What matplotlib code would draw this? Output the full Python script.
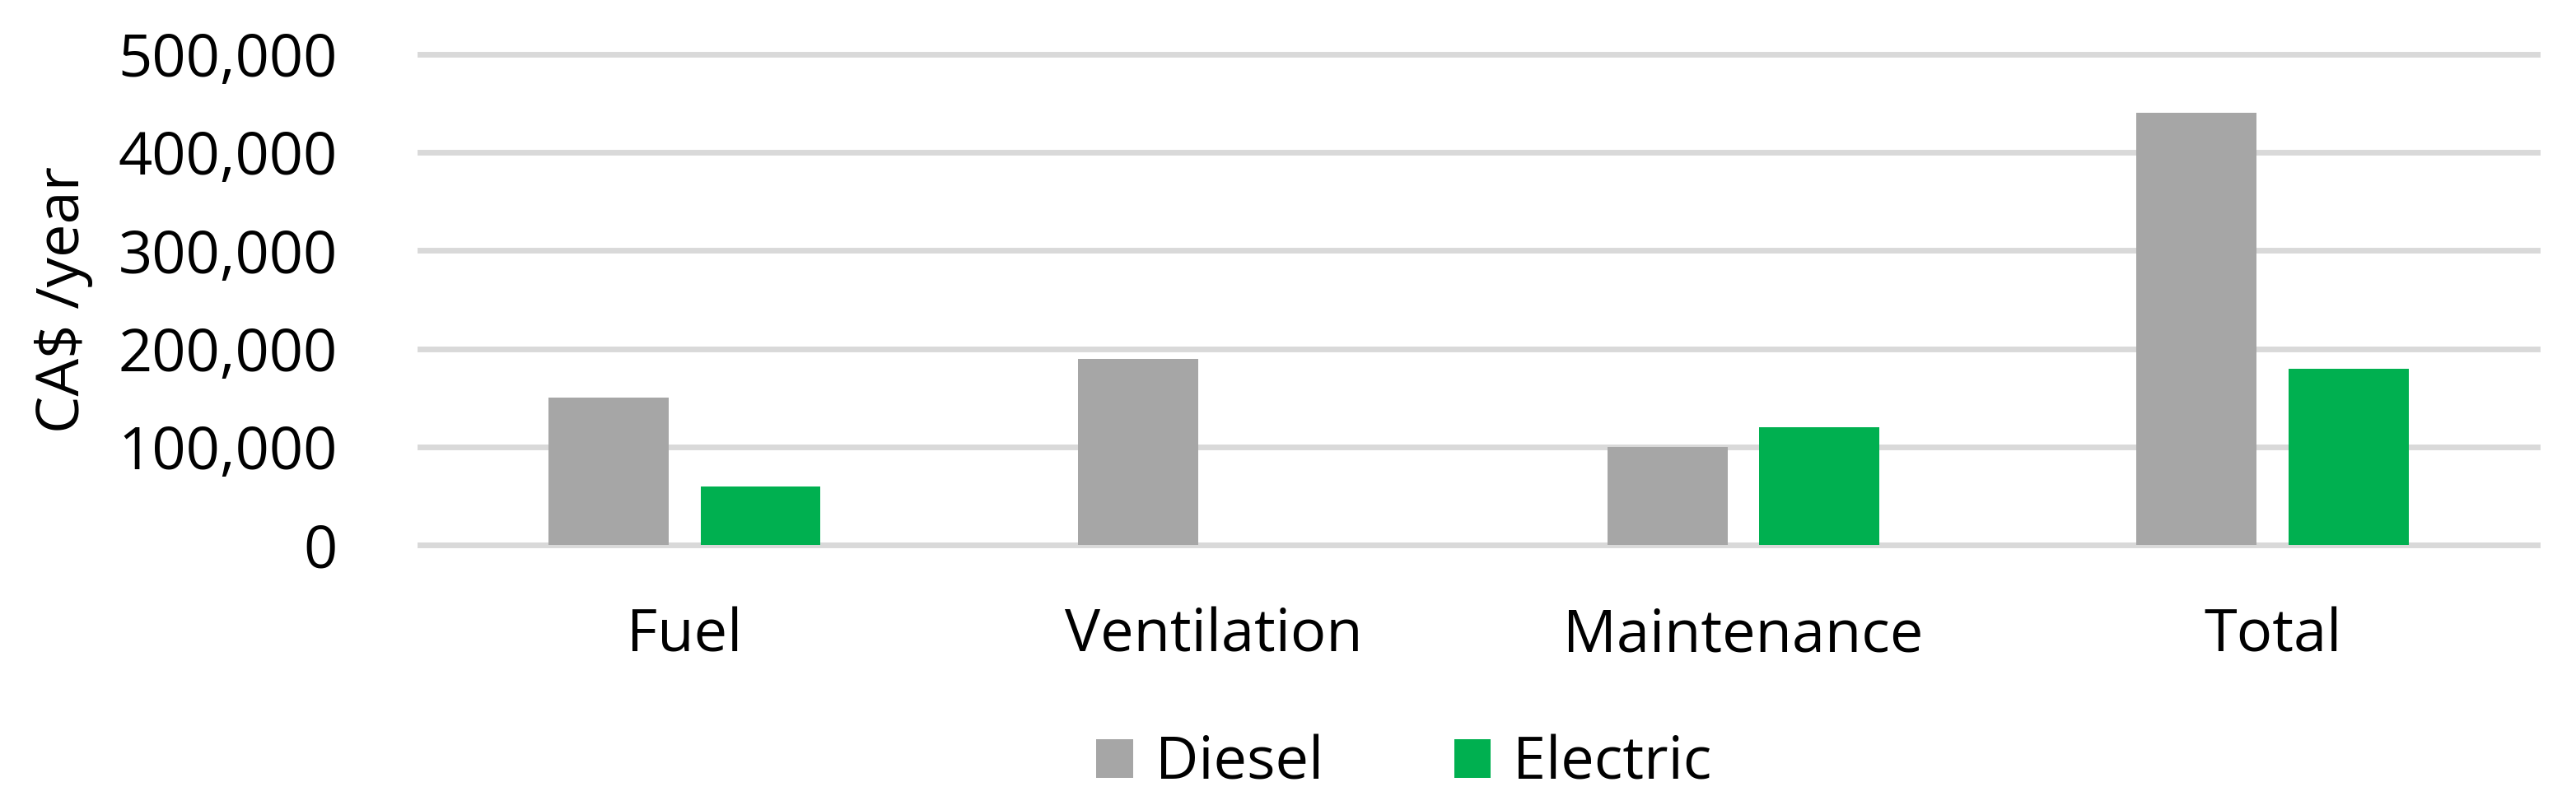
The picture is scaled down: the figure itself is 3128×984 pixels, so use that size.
import matplotlib.pyplot as plt
import numpy as np
from matplotlib.ticker import FuncFormatter

plt.rcParams['font.family'] = ['Open Sans', 'DejaVu Sans']

categories = ['Fuel', 'Ventilation', 'Maintenance', 'Total']
diesel = [150000, 190000, 100000, 440000]
electric = [60000, 0, 120000, 180000]
yticks = [0, 100000, 200000, 300000, 400000, 500000]

fig = plt.figure(figsize=(15.64, 4.92), dpi=200)
ax = fig.add_axes([0.163, 0.327, 0.822, 0.606])

x = np.arange(len(categories))
w = 0.227
off = w / 2 + 0.03
ax.bar(x - off, diesel, width=w, color='#a6a6a6', label='Diesel', zorder=3)
ax.bar(x + off, electric, width=w, color='#00b050', label='Electric', zorder=3)

ax.set_xlim(-0.5, len(categories) - 0.5)
ax.set_ylim(0, 500000)
ax.set_yticks(yticks)
ax.yaxis.set_major_formatter(FuncFormatter(lambda v, p: f'{int(v):,}'))
for t in yticks:
    ax.axhline(t, color='#d9d9d9', linewidth=2.5, zorder=1, clip_on=False)

ax.set_xticks(x)
ax.set_xticklabels(categories)
ax.tick_params(axis='both', length=0, labelsize=26)
ax.tick_params(axis='x', pad=27)
ax.tick_params(axis='y', pad=36)
for s in ax.spines.values():
    s.set_visible(False)

ax.set_ylabel('CA$ /year', fontsize=26, labelpad=11)

fig.legend(loc='center', bbox_to_anchor=(0.545, 0.057), ncol=2, frameon=False,
           fontsize=26, handlelength=0.62, handleheight=0.62, handletextpad=0.37,
           columnspacing=2.2)

fig.savefig('out.png', dpi=200)
